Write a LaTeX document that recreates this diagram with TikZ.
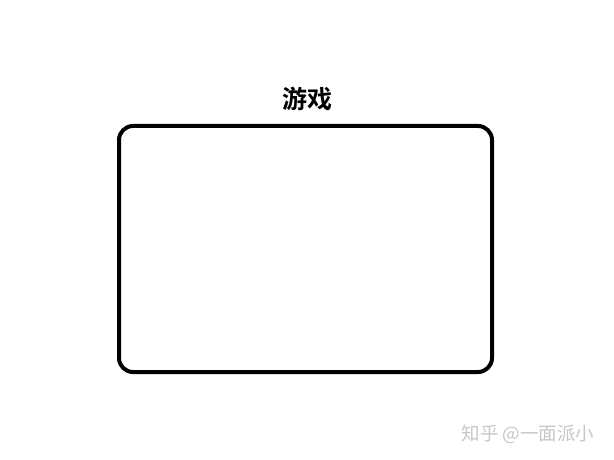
\documentclass[tikz,border=0pt]{standalone}
\usepackage{fontspec}
\newfontfamily\cjk{Noto Sans CJK SC}
\newfontfamily\cjkbold{Noto Sans CJK SC Bold}
\usetikzlibrary{positioning}

\tikzset{
  frame/.style = {draw, line width = 4pt, rounded corners = 14pt,
                  minimum width = 373pt, minimum height = 246pt},
  title/.style = {font = \cjkbold\fontsize{25pt}{25pt}\selectfont}
}

\begin{document}
\begin{tikzpicture}[x = 1pt, y = -1pt]
\useasboundingbox (0,0) rectangle (614,460);

\node [frame] (game) at (305.5,249) {};
\node [title, above = 10pt of game.north, xshift = 1.5pt] (gametitle) {游戏};

\node [font = \cjk\fontsize{18.5pt}{18.5pt}\selectfont, text = black!22] (zhihu) at (528,434) {知乎 @一面派小};
\end{tikzpicture}
\end{document}
